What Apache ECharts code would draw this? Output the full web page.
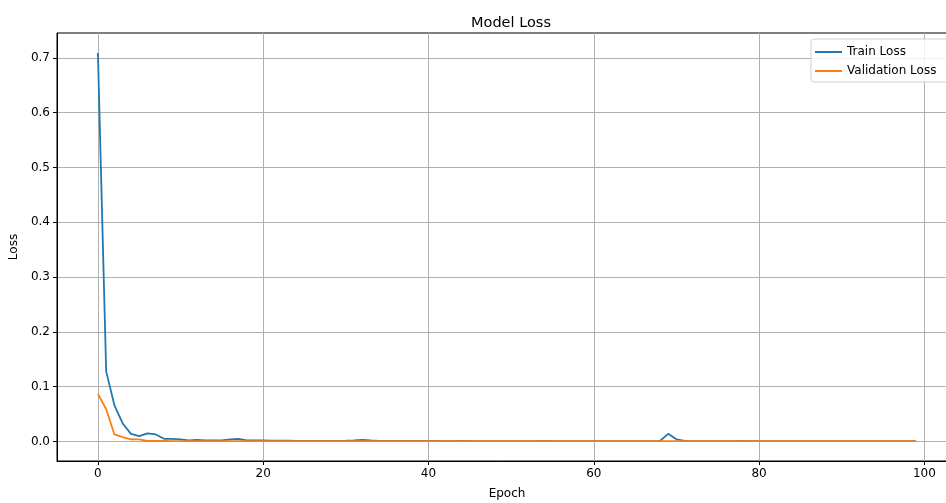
<!DOCTYPE html>
<html>
<head>
<meta charset="utf-8">
<script src="https://cdn.jsdelivr.net/npm/echarts@6/dist/echarts.min.js"></script>
<style>
  html, body { margin: 0; padding: 0; background: #fff; }
  #chart { width: 946px; height: 503px; }
</style>
</head>
<body>
<div id="chart"></div>
<script>
// epochs 0..99
const epochs = Array.from({ length: 100 }, (_, i) => i);

const trainLoss = [
  0.709, 0.128, 0.066, 0.033, 0.014, 0.010, 0.015, 0.013, 0.005, 0.005,
  0.004, 0.002, 0.003, 0.002, 0.002, 0.002, 0.004, 0.005, 0.002, 0.002,
  0.002, 0.0018, 0.0015, 0.0015, 0.0014, 0.0013, 0.0012, 0.0012, 0.0012, 0.0011,
  0.0015, 0.0022, 0.003, 0.002, 0.0012, 0.0012, 0.0011, 0.001, 0.001, 0.001,
  0.001, 0.001, 0.0009, 0.001, 0.0012, 0.001, 0.0009, 0.0009, 0.0009, 0.0009,
  0.0009, 0.0009, 0.0008, 0.0009, 0.0012, 0.0009, 0.0008, 0.0008, 0.0008, 0.0008,
  0.0008, 0.0008, 0.0008, 0.0008, 0.0008, 0.0008, 0.0008, 0.0008, 0.001, 0.014,
  0.004, 0.0012, 0.0009, 0.0009, 0.0009, 0.0009, 0.0008, 0.0008, 0.0011, 0.0008,
  0.0008, 0.0008, 0.0008, 0.0008, 0.0008, 0.0007, 0.0007, 0.0007, 0.0007, 0.0007,
  0.0007, 0.0007, 0.0008, 0.0007, 0.0007, 0.0007, 0.0007, 0.0007, 0.0007, 0.0007
];

const valLoss = [
  0.087, 0.059, 0.013, 0.008, 0.004, 0.004, 0.001, 0.001, 0.001, 0.0009,
  0.0008, 0.0008, 0.0008, 0.0007, 0.0007, 0.0007, 0.0007, 0.0007, 0.0006, 0.0006,
  0.0006, 0.0006, 0.0006, 0.0006, 0.0006, 0.0006, 0.0006, 0.0006, 0.0006, 0.0006,
  0.0006, 0.0006, 0.0006, 0.0006, 0.0006, 0.0006, 0.0006, 0.0006, 0.0006, 0.0006,
  0.0006, 0.0006, 0.0006, 0.0006, 0.0006, 0.0006, 0.0006, 0.0006, 0.0006, 0.0006,
  0.0006, 0.0006, 0.0006, 0.0006, 0.0006, 0.0006, 0.0006, 0.0006, 0.0006, 0.0006,
  0.0006, 0.0006, 0.0006, 0.0006, 0.0006, 0.0006, 0.0006, 0.0006, 0.0006, 0.0006,
  0.0006, 0.0006, 0.0006, 0.0006, 0.0006, 0.0006, 0.0006, 0.0006, 0.0006, 0.0006,
  0.0006, 0.0006, 0.0006, 0.0006, 0.0006, 0.0006, 0.0006, 0.0006, 0.0006, 0.0006,
  0.0006, 0.0006, 0.0006, 0.0006, 0.0006, 0.0006, 0.0006, 0.0006, 0.0006, 0.0006
];

const xTicks = [0, 20, 40, 60, 80, 100];
const yTicks = [0, 0.1, 0.2, 0.3, 0.4, 0.5, 0.6, 0.7];

const font = 'DejaVu Sans';
const chart = echarts.init(document.getElementById('chart'));

const option = {
  animation: false,
  textStyle: { fontFamily: font },
  title: {
    text: 'Model Loss',
    left: 506,
    top: 11,
    textAlign: 'center',
    textStyle: { fontFamily: font, fontSize: 14.5, fontWeight: 'normal', color: '#000' }
  },
  legend: {
    orient: 'vertical',
    left: 811,
    top: 39,
    padding: [7, 30, 5, 4],
    itemGap: 7,
    itemWidth: 27,
    itemHeight: 2,
    icon: 'rect',
    borderColor: '#d0d0d0',
    borderWidth: 1,
    borderRadius: 3,
    backgroundColor: 'rgba(255,255,255,0.8)',
    textStyle: { fontFamily: font, fontSize: 12, color: '#000' },
    data: ['Train Loss', 'Validation Loss']
  },
  grid: {
    left: 57, top: 33, right: -11, bottom: 42,
    outerBoundsMode: 'none',
    containLabel: false,
    show: true, borderColor: '#000', borderWidth: 1
  },
  xAxis: {
    type: 'value',
    min: -4.95,
    max: 103.95,
    name: 'Epoch',
    nameLocation: 'middle',
    nameGap: 27,
    nameTextStyle: { fontFamily: font, fontSize: 12, color: '#000' },
    axisLine: { show: true, onZero: false, lineStyle: { color: '#000', width: 1 } },
    axisTick: { show: true, customValues: xTicks, length: 4, lineStyle: { color: '#000' } },
    axisLabel: { customValues: xTicks, margin: 7, fontFamily: font, fontSize: 12, color: '#000' },
    splitLine: { show: true, lineStyle: { color: '#b0b0b0', width: 1 } }
  },
  yAxis: {
    type: 'value',
    min: -0.0355,
    max: 0.7455,
    name: 'Loss',
    nameLocation: 'middle',
    nameGap: 36,
    nameTextStyle: { fontFamily: font, fontSize: 12, color: '#000' },
    axisLine: { show: true, onZero: false, lineStyle: { color: '#000', width: 1 } },
    axisTick: { show: true, customValues: yTicks, length: 4, lineStyle: { color: '#000' } },
    axisLabel: {
      customValues: yTicks, margin: 7, fontFamily: font, fontSize: 12, color: '#000',
      formatter: v => v.toFixed(1)
    },
    splitLine: { show: true, lineStyle: { color: '#b0b0b0', width: 1 } }
  },
  series: [
    {
      name: 'Train Loss',
      type: 'line',
      data: epochs.map((e, i) => [e, trainLoss[i]]),
      showSymbol: false,
      color: '#1f77b4',
      lineStyle: { width: 1.8 },
      z: 3
    },
    {
      name: 'Validation Loss',
      type: 'line',
      data: epochs.map((e, i) => [e, valLoss[i]]),
      showSymbol: false,
      color: '#ff7f0e',
      lineStyle: { width: 1.8 },
      z: 4
    }
  ]
};

chart.setOption(option);
window.addEventListener('resize', () => chart.resize());
</script>
</body>
</html>
